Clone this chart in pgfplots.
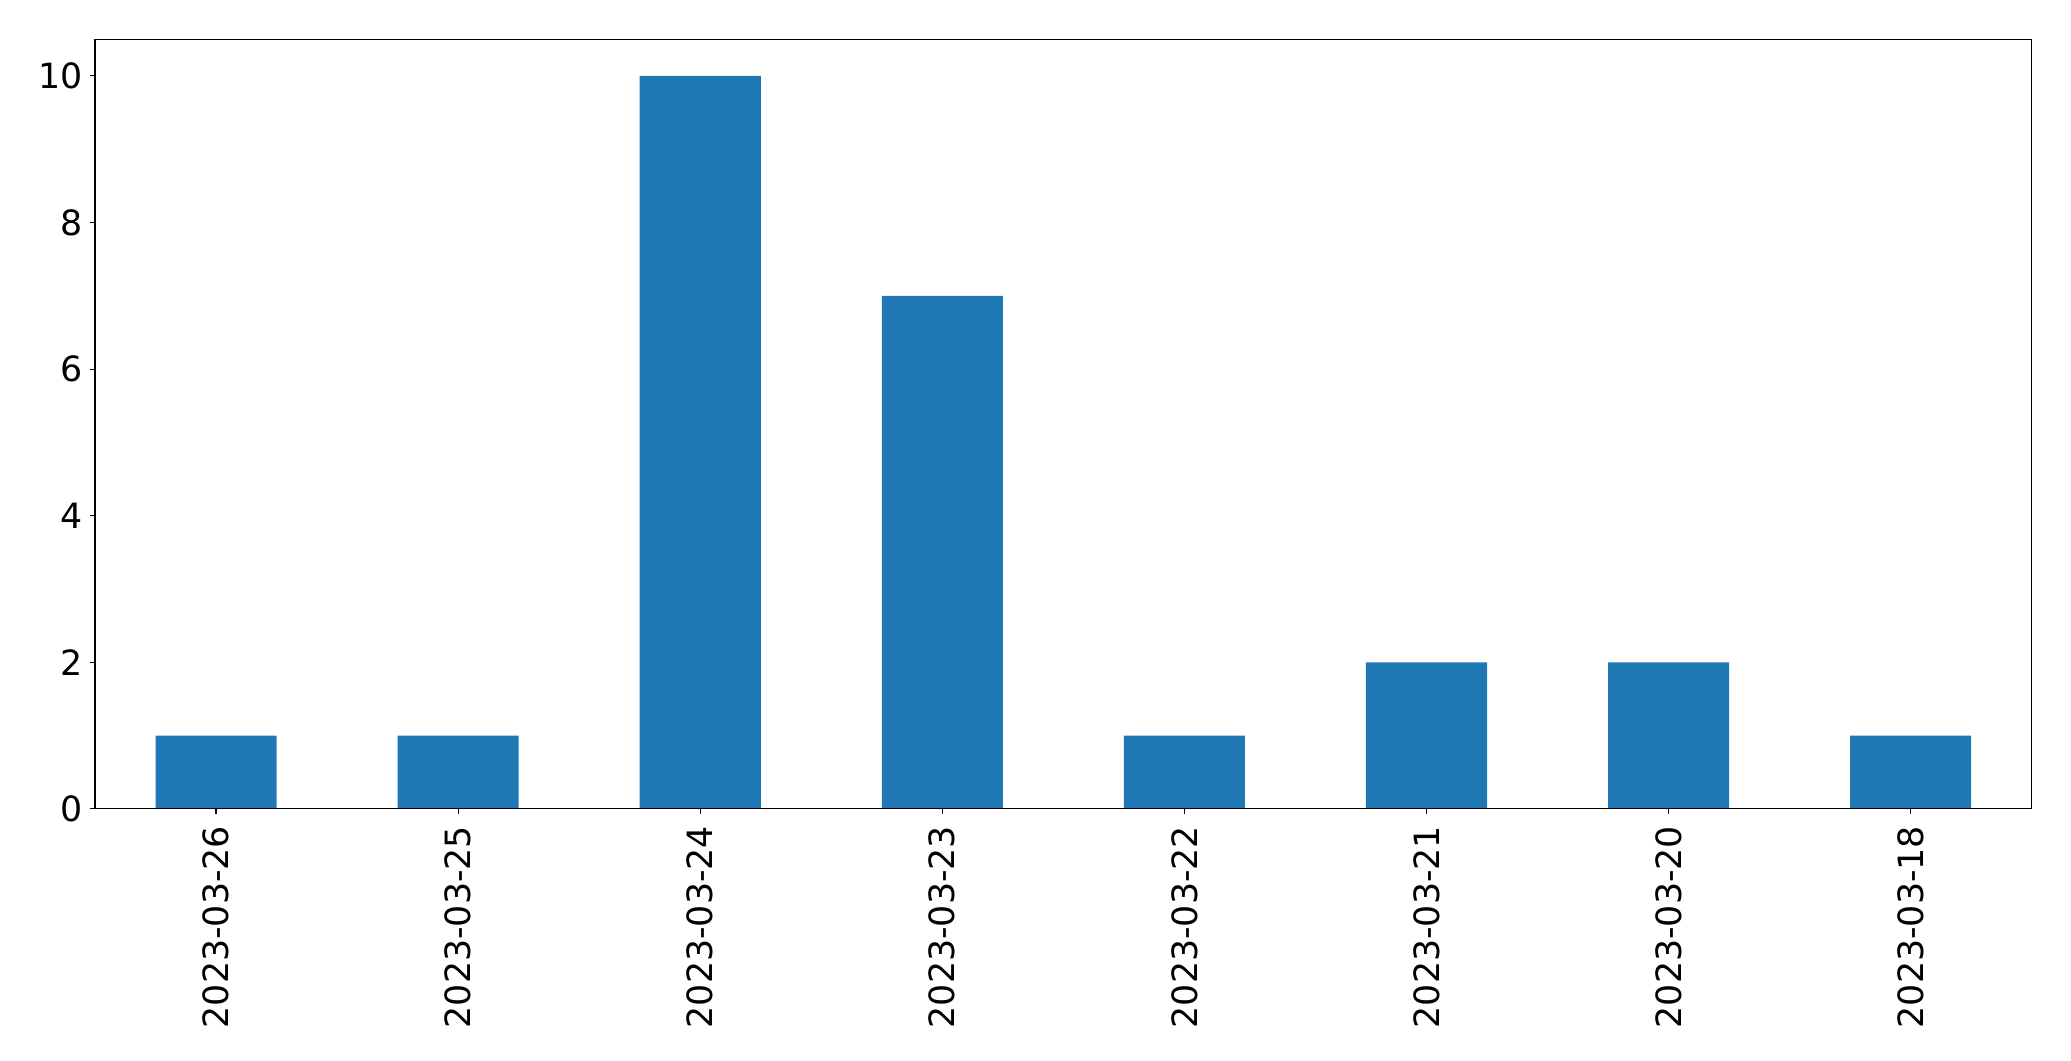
\documentclass[border=0pt]{standalone}
\usepackage{pgfplots}
\pgfplotsset{compat=1.18}
\usepackage{fontspec}
\setmainfont{DejaVu Sans}
\definecolor{mplblue}{HTML}{1F77B4}
\begin{document}
\begin{tikzpicture}
\begin{axis}[
  scale only axis,
  width=968.3pt, height=384.8pt,
  xmin=-0.5, xmax=7.5, ymin=0, ymax=10.5,
  xtick={0,1,2,3,4,5,6,7},
  xticklabels={2023-03-26,2023-03-25,2023-03-24,2023-03-23,2023-03-22,2023-03-21,2023-03-20,2023-03-18},
  ytick={0,2,4,6,8,10},
  /pgf/number format/assume math mode=true,
  tick label style={font=\fontsize{17.4}{20}\selectfont},
  xticklabel style={rotate=90, anchor=east, xshift=-2.5pt},
  yticklabel style={xshift=0pt},
  tick align=outside,
  major tick length=2.45pt,
  tick style={line width=0.55pt, black},
  axis line style={line width=0.55pt},
  xtick pos=bottom, ytick pos=left,
  axis on top,
]
\addplot[ybar, bar width=0.5, fill=mplblue, draw=none] coordinates {
(0,1) (1,1) (2,10) (3,7) (4,1) (5,2) (6,2) (7,1)};
\coordinate (sw) at (rel axis cs:0,0);
\coordinate (ne) at (rel axis cs:1,1);
\end{axis}
\pgfresetboundingbox
\path[use as bounding box] ([shift={(-47.5pt,-126pt)}]sw) rectangle ([shift={(19.65pt,19.65pt)}]ne);
\end{tikzpicture}
\end{document}
